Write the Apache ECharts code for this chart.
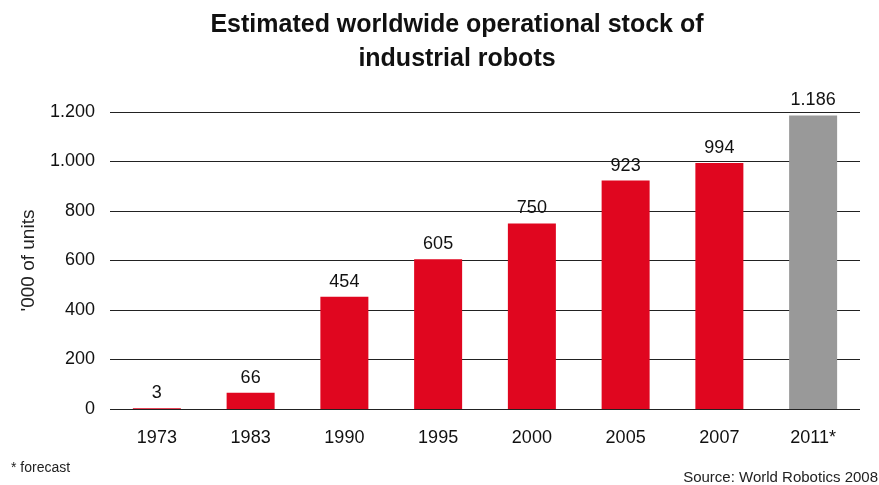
<!DOCTYPE html>
<html>
<head>
<meta charset="utf-8">
<script src="https://cdn.jsdelivr.net/npm/echarts@6/dist/echarts.min.js"></script>
<style>html,body{margin:0;padding:0;background:#fff;}#c{width:879px;height:485px;}</style>
</head>
<body>
<div id="c"></div>
<script>
var categories = ['1973', '1983', '1990', '1995', '2000', '2005', '2007', '2011*'];
var values = [3, 66, 454, 605, 750, 923, 994, 1186];
var forecastFlags = [false, false, false, false, false, false, false, true];
var yTicks = [0, 200, 400, 600, 800, 1000, 1200];

function fmt(v) {
  var s = String(Math.round(v));
  return s.replace(/\B(?=(\d{3})+(?!\d))/g, '.');
}

var chart = echarts.init(document.getElementById('c'));
var font = 'Liberation Sans, Arial, sans-serif';
chart.setOption({
  animation: false,
  backgroundColor: '#ffffff',
  title: {
    text: 'Estimated worldwide operational stock of\nindustrial robots',
    left: 452, textAlign: 'center', top: 3,
    textStyle: { fontFamily: font, fontSize: 25, fontWeight: 'bold', color: '#111', lineHeight: 34 }
  },
  graphic: [
    { type: 'text', left: 11, top: 461, style: { text: '* forecast', font: '14px ' + font, fill: '#222' } },
    { type: 'text', right: 1, top: 470, style: { text: 'Source: World Robotics 2008', font: '15px ' + font, fill: '#222' } }
  ],
  grid: { left: 110, right: 19, top: 112, bottom: 76, containLabel: false },
  xAxis: {
    type: 'category', data: categories,
    axisLine: { show: false }, axisTick: { show: false },
    axisLabel: { fontFamily: font, fontSize: 18, color: '#111', margin: 20 }
  },
  yAxis: {
    type: 'value', min: 0, max: 1200, interval: 200,
    name: "'000 of units", nameLocation: 'middle', nameGap: 72, nameRotate: 90,
    nameTextStyle: { fontFamily: font, fontSize: 19, color: '#222' },
    axisLine: { show: false }, axisTick: { show: false },
    axisLabel: { fontFamily: font, fontSize: 18, color: '#111', margin: 15, formatter: function (v) { return yTicks.indexOf(v) >= 0 ? fmt(v) : ''; } },
    splitLine: { lineStyle: { color: '#222', width: 1 } }
  },
  series: [{
    type: 'bar', barWidth: 48,
    data: values.map(function (v, i) {
      return { value: v, itemStyle: { color: forecastFlags[i] ? '#999999' : '#E0061F' } };
    }),
    label: { show: true, position: 'top', distance: 6, fontFamily: font, fontSize: 18, color: '#111', formatter: function (p) { return fmt(p.value); } }
  }]
});
</script>
</body>
</html>
